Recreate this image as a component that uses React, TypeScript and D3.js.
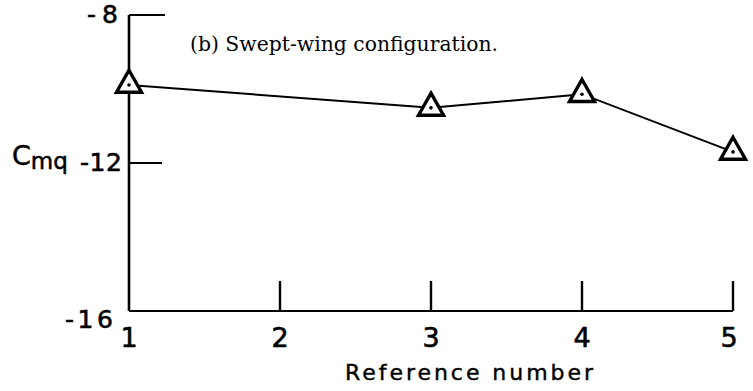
import React from "react";
import * as d3 from "d3";

const refNumbers = [1, 3, 4, 5];
const cmqValues = [-9.89, -10.51, -10.14, -11.7];
const xTicks = [2, 3, 4, 5];
const xTickLabels = ["1", "2", "3", "4", "5"];
const yTicks = [-8, -12, -16];
const titleText = "(b) Swept-wing configuration.";
const xLabel = "Reference number";

export default function App() {
  const W = 753, H = 391;
  const x = d3.scaleLinear().domain([1, 5]).range([129, 733]);
  const y = d3.scaleLinear().domain([-16, -8]).range([311, 15]);
  const line = d3.line<number>().x((_, i) => x(refNumbers[i])).y((v) => y(v));
  const sans = "DejaVu Sans, sans-serif";
  const tri = (cx: number, cy: number) => {
    const h = 22, w = 25;
    return `M${cx},${cy - (2 / 3) * h} L${cx + w / 2},${cy + h / 3} L${cx - w / 2},${cy + h / 3} Z`;
  };
  return (
    <svg width={W} height={H} style={{ position: "absolute", left: 0, top: 0, background: "#fff" }}>
      {/* y axis */}
      <line x1={x(1)} x2={x(1)} y1={y(-8)} y2={y(-16)} stroke="#000" strokeWidth={2.6} />
      {/* x axis */}
      <line x1={x(1)} x2={x(5)} y1={y(-16)} y2={y(-16)} stroke="#000" strokeWidth={2} />
      {/* y ticks */}
      {yTicks.filter((t) => t !== -16).map((t) => (
        <line key={t} x1={x(1)} x2={x(1) + (t === -8 ? 36 : 33)} y1={y(t)} y2={y(t)} stroke="#000" strokeWidth={2} />
      ))}
      {yTicks.map((t) => (
        <text key={"l" + t} x={t === -16 ? 113 : t === -8 ? 118 : 122} y={y(t) + (t === -16 ? 17 : 8)}
          textAnchor="end" fontFamily={sans} fontSize={25} fill="#000" stroke="#000" strokeWidth={0.6}
          textLength={t === -8 ? 31 : t === -12 ? 42 : 48} lengthAdjust="spacing">
          {String(t)}
        </text>
      ))}
      {/* x ticks */}
      {xTicks.map((t) => (
        <line key={t} x1={x(t)} x2={x(t)} y1={y(-16)} y2={y(-16) - 30} stroke="#000" strokeWidth={2.4} />
      ))}
      {xTickLabels.map((l, i) => (
        <text key={l} x={x(i + 1) + (i === 4 ? -4 : 0)} y={347} textAnchor="middle" fontFamily={sans} fontSize={27}
          fill="#000" stroke="#000" strokeWidth={0.6}>
          {l}
        </text>
      ))}
      {/* axis labels */}
      <text x={345} y={380} fontFamily={sans} fontSize={22} textLength={248} lengthAdjust="spacing" fill="#000"
        stroke="#000" strokeWidth={0.4}>
        {xLabel}
      </text>
      <text x={12} y={165} fontFamily={sans} fontSize={27} fill="#000" stroke="#000" strokeWidth={0.5}>
        C
        <tspan fontSize={23} dy={4}>mq</tspan>
      </text>
      {/* title */}
      <text x={190} y={51} fontFamily="DejaVu Serif, serif" fontSize={20} textLength={308} lengthAdjust="spacingAndGlyphs" fill="#000">
        {titleText}
      </text>
      {/* data line */}
      <path d={line(cmqValues) || ""} fill="none" stroke="#000" strokeWidth={2} />
      {cmqValues.map((v, i) => (
        <g key={i}>
          <path d={tri(x(refNumbers[i]), y(v))} fill="#fff" stroke="#000" strokeWidth={3.4} strokeLinejoin="miter" />
          <circle cx={x(refNumbers[i])} cy={y(v)} r={1.8} fill="#000" />
        </g>
      ))}
    </svg>
  );
}
